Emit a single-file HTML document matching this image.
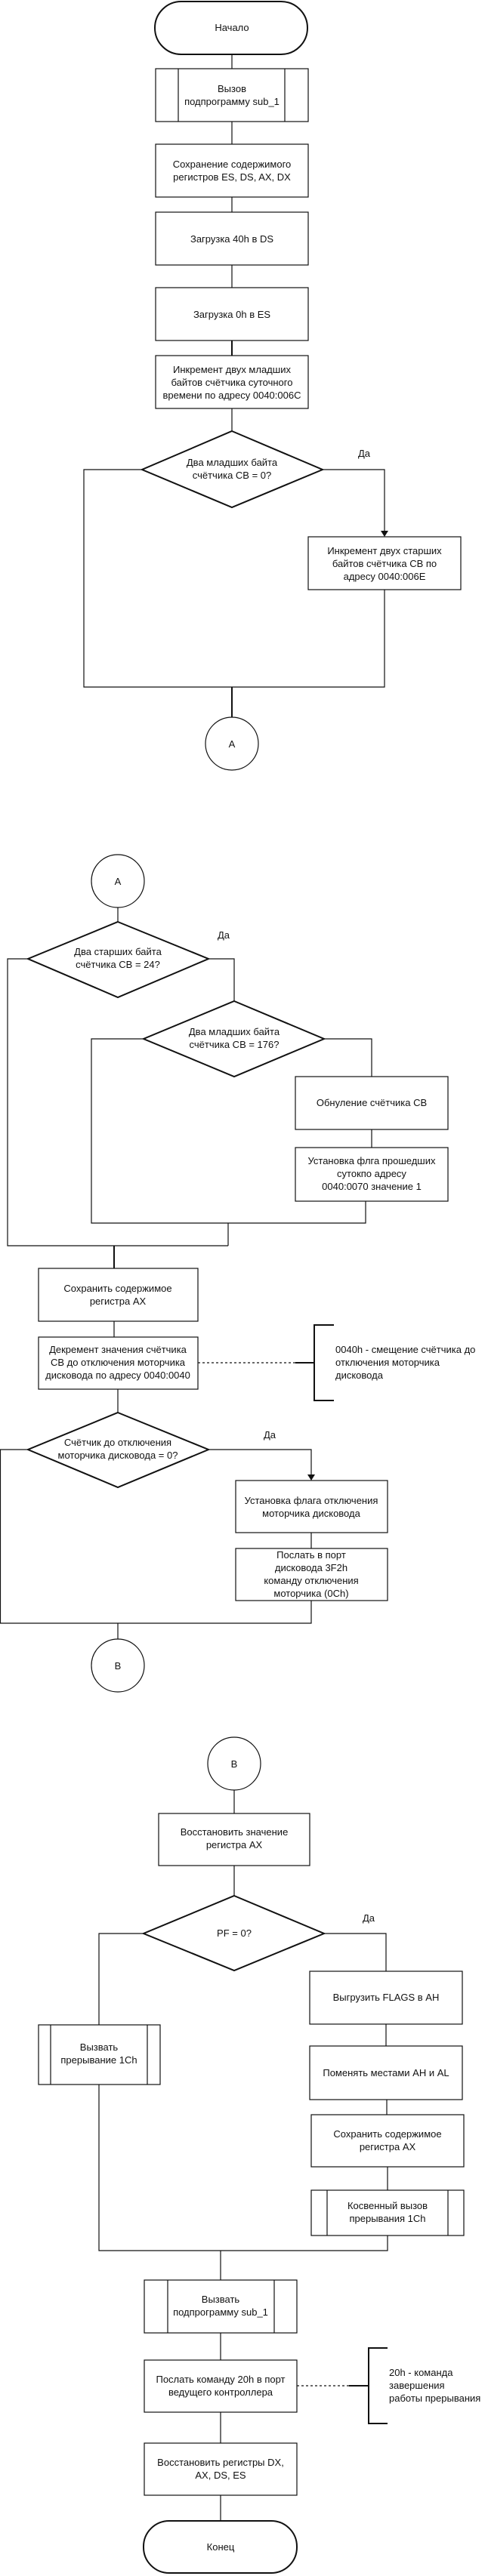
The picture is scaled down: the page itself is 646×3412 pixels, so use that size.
<!DOCTYPE html>
<html><head><meta charset="utf-8"><style>
html,body{margin:0;padding:0;background:#fff;}
svg{display:block;}
text{font-family:"Liberation Sans",Arial,sans-serif;font-size:13px;fill:#111;text-anchor:middle;}
.l{text-anchor:start;}
</style></head><body>
<svg width="646" height="3412" viewBox="0 0 646 3412" xmlns="http://www.w3.org/2000/svg">
<g fill="none" stroke="#111" stroke-width="1.2">
<!-- Page 1 -->
<rect x="205" y="2" width="202" height="70" rx="35" ry="35" stroke-width="2"/>
<line x1="307" y1="72" x2="307" y2="91"/>
<rect x="206" y="91" width="202" height="70"/><line x1="236" y1="91" x2="236" y2="161"/><line x1="377" y1="91" x2="377" y2="161"/>
<line x1="307" y1="161" x2="307" y2="191"/>
<rect x="206" y="191" width="202" height="70"/>
<line x1="307" y1="261" x2="307" y2="281"/>
<rect x="206" y="281" width="202" height="70"/>
<line x1="307" y1="351" x2="307" y2="381"/>
<rect x="206" y="381" width="202" height="70"/>
<line x1="307" y1="451" x2="307" y2="471" stroke-width="2"/>
<rect x="206" y="471" width="202" height="70"/>
<line x1="307" y1="541" x2="307" y2="571"/>
<polygon points="307,571 427,622 307,672 188,622" stroke-width="2"/>
<polyline points="188,622 111,622 111,910 509,910 509,781"/>
<polyline points="427,622 509,622 509,705"/>
<rect x="408" y="711" width="202" height="70"/>
<line x1="307" y1="910" x2="307" y2="950" stroke-width="2"/>
<circle cx="307" cy="985" r="35"/>
<!-- Page 2 -->
<circle cx="156" cy="1167" r="35"/>
<line x1="156" y1="1202" x2="156" y2="1221"/>
<polygon points="156,1221 276,1270 156,1321 37,1270" stroke-width="2"/>
<polyline points="276,1270 310,1270 310,1326"/>
<polygon points="310,1326 429,1376 310,1426 190,1376" stroke-width="2"/>
<polyline points="429,1376 492,1376 492,1426"/>
<rect x="391" y="1426" width="202" height="70"/>
<line x1="492" y1="1496" x2="492" y2="1520"/>
<rect x="391" y="1520" width="202" height="71"/>
<polyline points="484,1591 484,1620 121,1620 121,1376 190,1376"/>
<line x1="302" y1="1620" x2="302" y2="1650"/>
<polyline points="37,1270 10,1270 10,1650 302,1650"/>
<line x1="151" y1="1650" x2="151" y2="1680" stroke-width="2"/>
<rect x="51" y="1680" width="211" height="70"/>
<line x1="151" y1="1750" x2="151" y2="1771"/>
<rect x="51" y="1771" width="211" height="69"/>
<line x1="262" y1="1805" x2="391" y2="1805" stroke-dasharray="3,3"/>
<line x1="391" y1="1805" x2="416" y2="1805" stroke-width="2"/>
<polyline points="442,1755 416,1755 416,1855 442,1855" stroke-width="2"/>
<line x1="156" y1="1840" x2="156" y2="1871"/>
<polygon points="156,1871 276,1920 156,1970 37,1920" stroke-width="2"/>
<polyline points="276,1920 412,1920 412,1955"/>
<rect x="312" y="1961" width="201" height="69"/>
<line x1="412" y1="2030" x2="412" y2="2051"/>
<rect x="312" y="2051" width="201" height="69"/>
<polyline points="37,1920 0.5,1920 0.5,2150 412,2150 412,2120"/>
<line x1="156" y1="2150" x2="156" y2="2171"/>
<circle cx="156" cy="2206" r="35"/>
<!-- Page 3 -->
<circle cx="310" cy="2336" r="35"/>
<line x1="310" y1="2371" x2="310" y2="2402"/>
<rect x="210" y="2402" width="200" height="69"/>
<line x1="310" y1="2471" x2="310" y2="2511"/>
<polygon points="310,2511 429,2561 310,2610 190,2561" stroke-width="2"/>
<polyline points="429,2561 511,2561 511,2611"/>
<polyline points="190,2561 131,2561 131,2682"/>
<rect x="410" y="2611" width="202" height="70"/>
<line x1="511" y1="2681" x2="511" y2="2710"/>
<rect x="410" y="2710" width="202" height="71"/>
<line x1="512" y1="2781" x2="512" y2="2801"/>
<rect x="412" y="2801" width="202" height="69"/>
<line x1="513" y1="2870" x2="513" y2="2901"/>
<rect x="412" y="2901" width="202" height="60"/><line x1="433" y1="2901" x2="433" y2="2961"/><line x1="593" y1="2901" x2="593" y2="2961"/>
<rect x="51" y="2682" width="161" height="79"/><line x1="67" y1="2682" x2="67" y2="2761"/><line x1="195" y1="2682" x2="195" y2="2761"/>
<polyline points="131,2761 131,2981 513,2981 513,2961"/>
<line x1="292" y1="2981" x2="292" y2="3020"/>
<rect x="191" y="3020" width="202" height="70"/><line x1="222" y1="3020" x2="222" y2="3090"/><line x1="363" y1="3020" x2="363" y2="3090"/>
<line x1="292" y1="3090" x2="292" y2="3126"/>
<rect x="191" y="3126" width="202" height="69"/>
<line x1="393" y1="3160" x2="462" y2="3160" stroke-dasharray="3,3"/>
<line x1="462" y1="3160" x2="488" y2="3160" stroke-width="2"/>
<polyline points="513,3110 488,3110 488,3210 513,3210" stroke-width="2"/>
<line x1="292" y1="3195" x2="292" y2="3236"/>
<rect x="191" y="3236" width="202" height="69"/>
<line x1="292" y1="3305" x2="292" y2="3339"/>
<rect x="190" y="3339" width="203" height="69" rx="34" ry="34" stroke-width="2"/>
</g>
<g fill="#111">
<polygon points="504,703 514,703 509,711"/>
<polygon points="407,1953 417,1953 412,1961"/>
</g>
<!-- text -->
<text x="307" y="41">Начало</text>
<text x="307" y="122">Вызов</text><text x="307" y="139">подпрограмму sub_1</text>
<text x="307" y="222">Сохранение содержимого</text><text x="307" y="239">регистров ES, DS, AX, DX</text>
<text x="307" y="321">Загрузка 40h в DS</text>
<text x="307" y="421">Загрузка 0h в ES</text>
<text x="307" y="494">Инкремент двух младших</text><text x="307" y="511">байтов счётчика суточного</text><text x="307" y="528">времени по адресу 0040:006C</text>
<text x="307" y="617">Два младших байта</text><text x="307" y="634">счётчика CB = 0?</text>
<text x="482" y="605">Да</text>
<text x="509" y="734">Инкремент двух старших</text><text x="509" y="751">байтов  счётчика CB по</text><text x="509" y="768">адресу 0040:006E</text>
<text x="307" y="990">A</text>
<text x="156" y="1172">A</text>
<text x="156" y="1265">Два старших байта</text><text x="156" y="1282">счётчика CB = 24?</text>
<text x="296" y="1243">Да</text>
<text x="310" y="1371">Два младших байта</text><text x="310" y="1388">счётчика CB = 176?</text>
<text x="492" y="1465">Обнуление счётчика CB</text>
<text x="492" y="1542">Установка флга прошедших</text><text x="492" y="1559">сутокпо адресу</text><text x="492" y="1576">0040:0070 значение 1</text>
<text x="156" y="1711">Сохранить содержимое</text><text x="156" y="1728">регистра AX</text>
<text x="156" y="1792">Декремент значения счётчика</text><text x="156" y="1809">CB до отключения моторчика</text><text x="156" y="1826">дисковода по адресу 0040:0040</text>
<text class="l" x="444" y="1792">0040h - смещение счётчика до</text><text class="l" x="444" y="1809">отключения моторчика</text><text class="l" x="444" y="1826">дисковода</text>
<text x="156" y="1915">Счётчик до отключения</text><text x="156" y="1932">моторчика дисковода = 0?</text>
<text x="357" y="1905">Да</text>
<text x="412" y="1992">Установка флага отключения</text><text x="412" y="2009">моторчика дисковода</text>
<text x="412" y="2064">Послать в порт</text><text x="412" y="2081">дисковода 3F2h</text><text x="412" y="2098">команду отключения</text><text x="412" y="2115">моторчика (0Ch)</text>
<text x="156" y="2211">B</text>
<text x="310" y="2341">B</text>
<text x="310" y="2431">Восстановить значение</text><text x="310" y="2448">регистра AX</text>
<text x="310" y="2565">PF = 0?</text>
<text x="488" y="2545">Да</text>
<text x="511" y="2650">Выгрузить FLAGS в AH</text>
<text x="511" y="2750">Поменять местами AH и AL</text>
<text x="513" y="2831">Сохранить содержимое</text><text x="513" y="2848">регистра AX</text>
<text x="513" y="2926">Косвенный вызов</text><text x="513" y="2943">прерывания 1Ch</text>
<text x="131" y="2716">Вызвать</text><text x="131" y="2733">прерывание 1Ch</text>
<text x="292" y="3050">Вызвать</text><text x="292" y="3067">подпрограмму sub_1</text>
<text x="292" y="3156">Послать команду 20h в порт</text><text x="292" y="3173">ведущего контроллера</text>
<text class="l" x="515" y="3147">20h - команда</text><text class="l" x="515" y="3164">завершения</text><text class="l" x="515" y="3181">работы прерывания</text>
<text x="292" y="3266">Восстановить регистры DX,</text><text x="292" y="3283">AX, DS, ES</text>
<text x="292" y="3378">Конец</text>
</svg>
</body></html>
